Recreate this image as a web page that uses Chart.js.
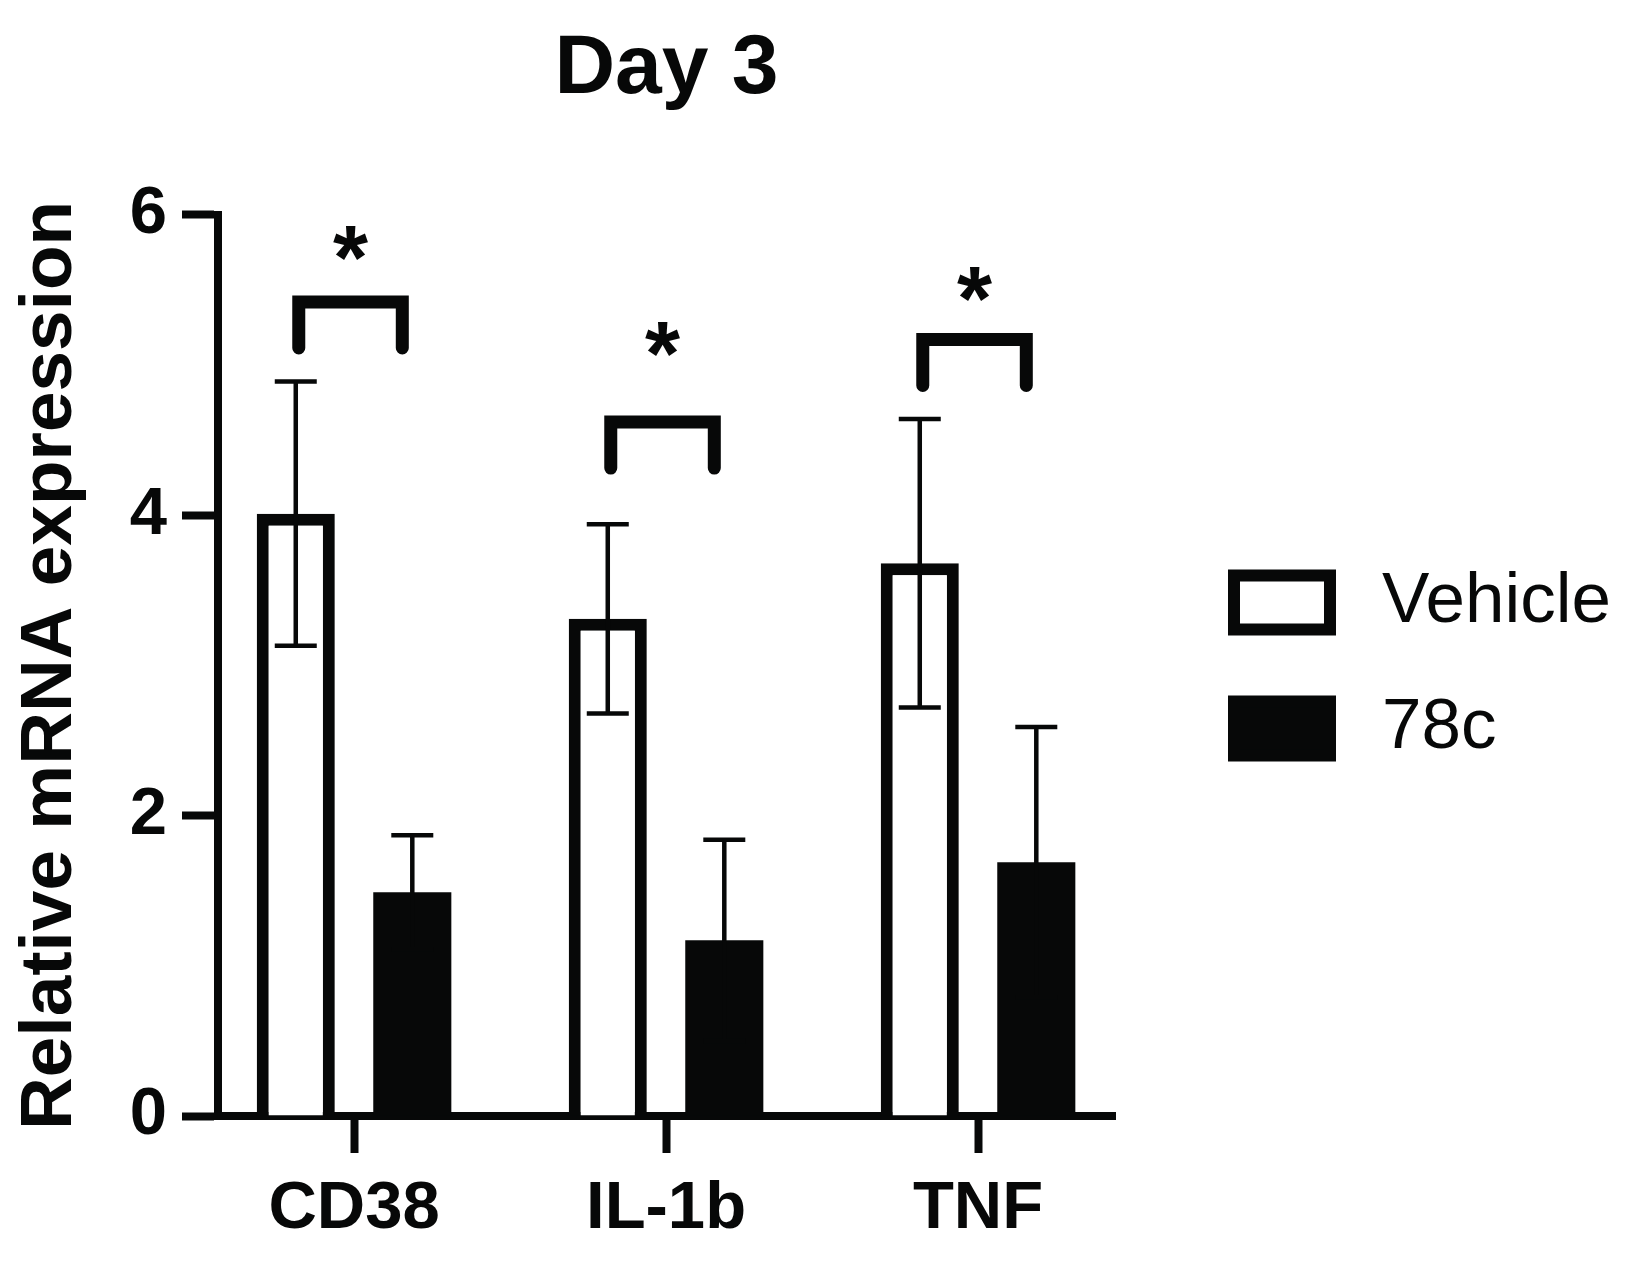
<!DOCTYPE html>
<html>
<head>
<meta charset="utf-8">
<script src="https://cdn.jsdelivr.net/npm/chart.js@4/dist/chart.umd.min.js"></script>
<style>
html, body { margin: 0; padding: 0; background: #ffffff; }
#wrap { width: 1633px; height: 1262px; }
</style>
</head>
<body>
<div id="wrap"><canvas id="c" width="1633" height="1262"></canvas></div>
<script>
// ---- data ----
const categories = ['CD38', 'IL-1b', 'TNF'];
const seriesNames = ['Vehicle', '78c'];
const vehicleMean = [4.01, 3.31, 3.68];
const vehicleSD = [0.88, 0.63, 0.96];
const c78Mean = [1.49, 1.17, 1.69];
const c78SD = [0.38, 0.67, 0.90];
const yTickValues = [0, 2, 4, 6];
const sigBracketLevel = [5.42, 4.62, 5.17];
const sigStarLevel = [5.81, 5.17, 5.54];
const sigLabels = ['*', '*', '*'];

const INK = '#070808';
const FONT = "'Liberation Sans', Arial, Helvetica, sans-serif";

const toPoints = arr => arr.map((v, i) => ({ x: i + 1, y: v }));

const annotationsPlugin = {
  id: 'errorBarsAndSignificance',
  afterDatasetsDraw(chart) {
    const ctx = chart.ctx;
    const y = chart.scales.y;
    const means = [vehicleMean, c78Mean];
    const sds = [vehicleSD, c78SD];
    ctx.save();
    ctx.strokeStyle = INK;
    ctx.lineWidth = 4.5;
    ctx.lineCap = 'butt';
    chart.data.datasets.forEach((ds, di) => {
      const meta = chart.getDatasetMeta(di);
      meta.data.forEach((bar, i) => {
        const hi = y.getPixelForValue(means[di][i] + sds[di][i]);
        const lo = y.getPixelForValue(means[di][i] - sds[di][i]);
        const half = 21;
        ctx.beginPath();
        ctx.moveTo(bar.x, hi); ctx.lineTo(bar.x, lo);
        ctx.moveTo(bar.x - half, hi); ctx.lineTo(bar.x + half, hi);
        ctx.moveTo(bar.x - half, lo); ctx.lineTo(bar.x + half, lo);
        ctx.stroke();
      });
    });
    const m0 = chart.getDatasetMeta(0), m1 = chart.getDatasetMeta(1);
    categories.forEach((c, i) => {
      const xl = m0.data[i].x + 3;
      const xr = m1.data[i].x - 10;
      const yt = y.getPixelForValue(sigBracketLevel[i]);
      const yb = yt + 46;
      ctx.lineWidth = 13;
      ctx.lineJoin = 'miter';
      ctx.lineCap = 'round';
      ctx.beginPath();
      ctx.moveTo(xl, yb); ctx.lineTo(xl, yt); ctx.lineTo(xr, yt); ctx.lineTo(xr, yb);
      ctx.stroke();
      ctx.font = 'bold 90px ' + FONT;
      ctx.fillStyle = INK;
      ctx.textAlign = 'center';
      ctx.textBaseline = 'alphabetic';
      const mt = ctx.measureText(sigLabels[i]);
      const cy = y.getPixelForValue(sigStarLevel[i]);
      ctx.fillText(sigLabels[i], (xl + xr) / 2, cy + (mt.actualBoundingBoxAscent - mt.actualBoundingBoxDescent) / 2);
    });
    ctx.restore();
  }
};

const sideLegendPlugin = {
  id: 'sideLegend',
  afterDraw(chart) {
    const { ctx, chartArea } = chart;
    const sets = chart.data.datasets;
    const midY = (chartArea.top + chartArea.bottom) / 2;
    const rowGap = 126;
    const boxLeft = chartArea.right + 119;
    const textLeft = chartArea.right + 267;
    ctx.save();
    sets.forEach((ds, i) => {
      const yc = midY + (i - (sets.length - 1) / 2) * rowGap;
      ctx.beginPath();
      ctx.rect(boxLeft, yc - 27, 96, 54);
      ctx.fillStyle = ds.backgroundColor;
      ctx.fill();
      ctx.lineWidth = 12;
      ctx.strokeStyle = ds.borderColor;
      ctx.stroke();
      ctx.font = '71px ' + FONT;
      ctx.fillStyle = INK;
      ctx.textAlign = 'left';
      ctx.textBaseline = 'middle';
      ctx.fillText(ds.label, textLeft, yc);
    });
    ctx.restore();
  }
};

new Chart(document.getElementById('c'), {
  type: 'bar',
  data: {
    datasets: [
      { label: seriesNames[0], data: toPoints(vehicleMean), backgroundColor: '#ffffff', borderColor: INK, borderWidth: 12, borderSkipped: 'start' },
      { label: seriesNames[1], data: toPoints(c78Mean), backgroundColor: INK, borderColor: INK, borderWidth: 0 }
    ]
  },
  options: {
    responsive: false,
    animation: false,
    devicePixelRatio: 1,
    layout: { padding: { left: 0, right: 518, top: 0, bottom: 0 } },
    datasets: { bar: { categoryPercentage: 0.747, barPercentage: 0.67 } },
    plugins: {
      legend: { display: false },
      title: {
        display: true, fullSize: false, text: 'Day 3', color: INK,
        font: { family: FONT, size: 84, weight: 'bold' },
        padding: { top: 19, bottom: 95 }
      },
      tooltip: { enabled: false }
    },
    scales: {
      x: {
        type: 'linear', min: 0.564, max: 3.439, offset: false,
        afterBuildTicks: s => { s.ticks = categories.map((c, i) => ({ value: i + 1 })); },
        afterFit: s => { s.height = 146; },
        grid: { display: true, offset: false, drawOnChartArea: false, drawTicks: true, tickLength: 37, tickWidth: 8, tickColor: INK },
        border: { display: true, color: INK, width: 8 },
        ticks: {
          color: INK, padding: 16, maxRotation: 0, autoSkip: false,
          font: { family: FONT, size: 67, weight: 'bold' },
          callback: v => categories[Math.round(v) - 1] ?? ''
        }
      },
      y: {
        type: 'linear', min: 0, max: 6, position: 'left',
        afterBuildTicks: s => { s.ticks = yTickValues.map(v => ({ value: v })); },
        afterFit: s => { s.width = 218; },
        grid: { display: true, drawOnChartArea: false, drawTicks: true, tickLength: 36, tickWidth: 8, tickColor: INK },
        border: { display: true, color: INK, width: 8 },
        ticks: { color: INK, padding: 15, font: { family: FONT, size: 67, weight: 'bold' } },
        title: {
          display: true, text: 'Relative mRNA expression', color: INK,
          font: { family: FONT, size: 73, weight: 'bold' },
          padding: { top: 7, bottom: 0 }
        }
      }
    }
  },
  plugins: [annotationsPlugin, sideLegendPlugin]
});
</script>
</body>
</html>
